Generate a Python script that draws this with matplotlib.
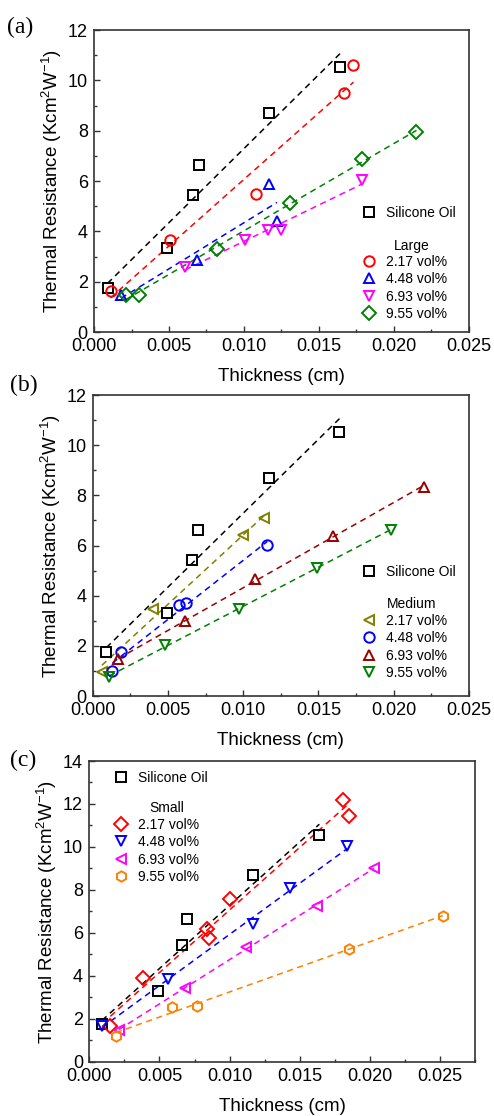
import numpy as np
import matplotlib
matplotlib.use("Agg")
import matplotlib.pyplot as plt
from matplotlib.ticker import MultipleLocator, FormatStrFormatter
from matplotlib.lines import Line2D

plt.rcParams['font.family'] = ['Liberation Sans', 'DejaVu Sans']
plt.rcParams['mathtext.fontset'] = 'custom'
plt.rcParams['mathtext.rm'] = 'Liberation Sans'
plt.rcParams['mathtext.it'] = 'Liberation Sans:italic'

# Silicone oil reference (same in every panel)
oil_x = [0.0009, 0.0049, 0.0066, 0.0070, 0.0117, 0.0164]
oil_y = [1.76, 3.32, 5.44, 6.63, 8.69, 10.54]

vol_labels = ['2.17 vol%', '4.48 vol%', '6.93 vol%', '9.55 vol%']

# (a) Large particles
large_x = [
    [0.0011, 0.0051, 0.0108, 0.0167, 0.0173],
    [0.0018, 0.0069, 0.0117, 0.0122],
    [0.0061, 0.0101, 0.0116, 0.0125, 0.0179],
    [0.0021, 0.0030, 0.0082, 0.0131, 0.0179, 0.0215],
]
large_y = [
    [1.62, 3.67, 5.48, 9.48, 10.61],
    [1.46, 2.88, 5.90, 4.42],
    [2.59, 3.65, 4.07, 4.05, 6.03],
    [1.46, 1.46, 3.28, 5.13, 6.86, 7.96],
]

# (b) Medium particles
medium_x = [
    [0.0006, 0.0040, 0.0100, 0.0114],
    [0.0013, 0.0019, 0.0057, 0.0062, 0.0116],
    [0.0017, 0.0061, 0.0108, 0.0160, 0.0220],
    [0.0011, 0.0048, 0.0097, 0.0149, 0.0198],
]
medium_y = [
    [0.97, 3.48, 6.43, 7.08],
    [1.00, 1.75, 3.63, 3.69, 6.02],
    [1.46, 2.99, 4.65, 6.38, 8.35],
    [0.77, 2.03, 3.46, 5.09, 6.64],
]

# (c) Small particles
small_x = [
    [0.0015, 0.0038, 0.0084, 0.0085, 0.0100, 0.0181, 0.0185],
    [0.0009, 0.0056, 0.0117, 0.0143, 0.0184],
    [0.0021, 0.0068, 0.0112, 0.0162, 0.0203],
    [0.0019, 0.0059, 0.0077, 0.0185, 0.0252],
]
small_y = [
    [1.69, 3.92, 6.17, 5.78, 7.58, 12.19, 11.46],
    [1.69, 3.86, 6.42, 8.08, 10.05],
    [1.49, 3.43, 5.33, 7.27, 9.01],
    [1.22, 2.57, 2.62, 5.24, 6.79],
]

panels = [
    dict(tag='(a)', group='Large', xs=large_x, ys=large_y,
         colors=['#FF0000', '#0000FF', '#FF00FF', '#008000'],
         markers=['o', '^', 'v', 'D'], ymax=12, xmax=0.025,
         rect=[0.1903, 0.7025, 0.759, 0.2706],
         tag_pos=(-0.232, 1.01), leg_x=0.715, oil_y=0.394,
         title_pos=(0.848, 0.285), grp_top=0.256),
    dict(tag='(b)', group='Medium', xs=medium_x, ys=medium_y,
         colors=['#808000', '#0000FF', '#990000', '#008000'],
         markers=['<', 'o', '^', 'v'], ymax=12, xmax=0.025,
         rect=[0.188, 0.3763, 0.761, 0.2697],
         tag_pos=(-0.221, 1.033), leg_x=0.715, oil_y=0.412,
         title_pos=(0.848, 0.306), grp_top=0.273),
    dict(tag='(c)', group='Small', xs=small_x, ys=small_y,
         colors=['#FF0000', '#0000FF', '#FF00FF', '#FF8000'],
         markers=['D', 'v', '<', 'h'], ymax=14, xmax=0.0275,
         rect=[0.1808, 0.0484, 0.7808, 0.2697],
         tag_pos=(-0.206, 1.003), leg_x=0.064, oil_y=0.944,
         title_pos=(0.201, 0.844), grp_top=0.811),
]

msize = {'o': 7.5, 's': 6.5, '^': 7.5, 'v': 7.5, '<': 7.5, 'D': 7.0, 'h': 7.5}

fig = plt.figure(figsize=(4.94, 11.16), dpi=100)


def draw_series(ax, x, y, color, marker):
    x = np.asarray(x)
    y = np.asarray(y)
    k, b = np.polyfit(x, y, 1)
    xf = np.array([x.min(), x.max()])
    ax.plot(xf, k * xf + b, ls=(0, (4, 3)), color=color, lw=1.1, zorder=2)
    ax.plot(x, y, ls='none', marker=marker, ms=msize[marker], mfc='none',
            mec=color, mew=1.4, zorder=3)


for i, p in enumerate(panels):
    ax = fig.add_axes(p['rect'])
    draw_series(ax, oil_x, oil_y, 'black', 's')
    for x, y, c, m in zip(p['xs'], p['ys'], p['colors'], p['markers']):
        draw_series(ax, x, y, c, m)

    ax.set_xlim(0, p['xmax'])
    ax.set_ylim(0, p['ymax'])
    ax.xaxis.set_major_locator(MultipleLocator(0.005))
    ax.xaxis.set_minor_locator(MultipleLocator(0.0025))
    ax.xaxis.set_major_formatter(FormatStrFormatter('%.3f'))
    ax.yaxis.set_major_locator(MultipleLocator(2))
    ax.yaxis.set_minor_locator(MultipleLocator(1))
    ax.tick_params(which='both', direction='in', labelsize=13, width=1.0,
                   color='#333333', top=False, right=False)
    ax.tick_params(which='major', length=4)
    ax.tick_params(which='minor', length=2.5)
    ax.tick_params(axis='x', which='major', pad=4.5)
    ax.tick_params(axis='y', which='major', pad=4.5)
    for s in ax.spines.values():
        s.set_color('#333333')
        s.set_linewidth(1.2)

    ax.set_xlabel('Thickness (cm)', fontsize=13.5)
    ax.set_ylabel('Thermal Resistance (Kcm$^{\\mathregular{2}}$W$^{\\mathregular{-1}}$)',
                  fontsize=13.5)
    ax.xaxis.set_label_coords(0.5, -0.118)
    ax.yaxis.set_label_coords(-0.079, 0.5)

    ax.text(p['tag_pos'][0], p['tag_pos'][1], p['tag'], transform=ax.transAxes,
            fontsize=17, family='Liberation Serif', ha='left', va='center')

    oil_handle = [Line2D([], [], ls='none', marker='s', ms=msize['s'], mfc='none',
                         mec='black', mew=1.4)]
    grp_handles = [Line2D([], [], ls='none', marker=m, ms=msize[m], mfc='none',
                          mec=c, mew=1.4)
                   for c, m in zip(p['colors'], p['markers'])]

    leg1 = ax.legend(oil_handle, ['Silicone Oil'], loc='center left',
                     bbox_to_anchor=(p['leg_x'], p['oil_y']), frameon=False,
                     fontsize=10, handlelength=1.0, handletextpad=0.75,
                     borderaxespad=0, borderpad=0)
    ax.add_artist(leg1)
    ax.text(p['title_pos'][0], p['title_pos'][1], p['group'], fontsize=10,
            transform=ax.transAxes, ha='center', va='center')
    ax.legend(grp_handles, vol_labels, loc='upper left',
              bbox_to_anchor=(p['leg_x'], p['grp_top']),
              frameon=False, fontsize=10, handlelength=1.0,
              handletextpad=0.75, labelspacing=0.25, borderaxespad=0,
              borderpad=0)

fig.savefig('out.png', dpi=100)
